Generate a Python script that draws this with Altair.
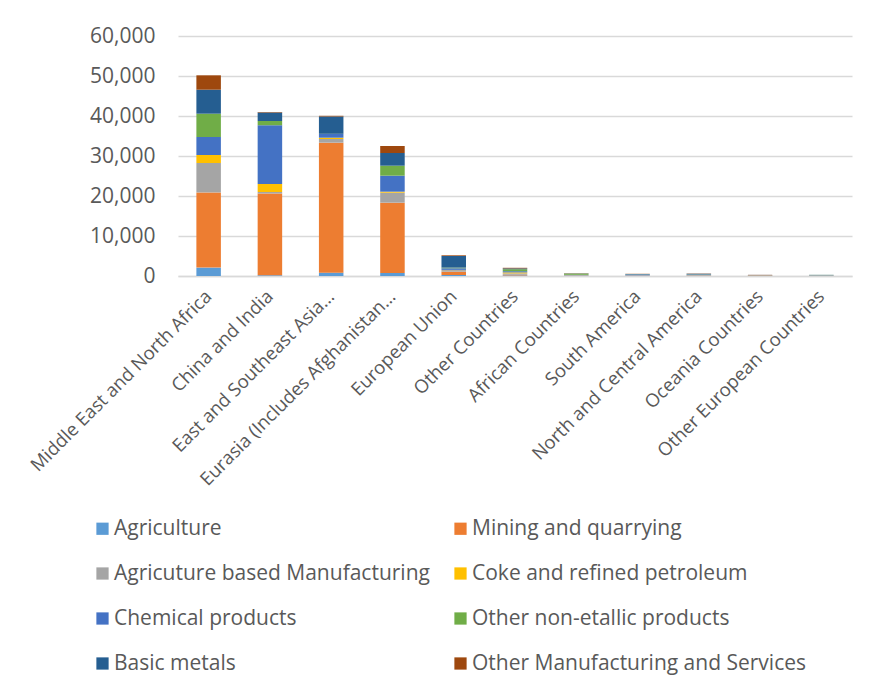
import altair as alt
import pandas as pd

regions = [
    "Middle East and North Africa", "China and India", "East and Southeast Asia…",
    "Eurasia (Includes Afghanistan…", "European Union", "Other Countries",
    "African Countries", "South America", "North and Central America",
    "Oceania Countries", "Other European Countries",
]
sectors = [
    "Agriculture", "Mining and quarrying", "Agricuture based Manufacturing",
    "Coke and refined petroleum", "Chemical products", "Other non-etallic products",
    "Basic metals", "Other Manufacturing and Services",
]
colors = ["#5B9BD5", "#ED7D31", "#A5A5A5", "#FFC000", "#4472C4", "#70AD47", "#255E91", "#9E480E"]

agriculture = [2100, 200, 830, 750, 250, 150, 100, 50, 50, 50, 50]
mining = [18800, 20400, 32500, 17580, 830, 150, 50, 50, 50, 100, 30]
agri_manuf = [7350, 420, 920, 2500, 400, 350, 100, 100, 150, 50, 100]
coke = [2000, 2000, 330, 250, 50, 250, 0, 0, 0, 0, 0]
chemical = [4500, 14670, 920, 4000, 400, 300, 50, 150, 100, 30, 40]
non_metallic = [5830, 1080, 50, 2500, 170, 500, 300, 50, 100, 20, 50]
basic_metals = [6000, 2080, 4330, 3170, 2900, 200, 50, 100, 100, 20, 30]
other_manuf = [3590, 170, 170, 1750, 170, 150, 50, 50, 50, 30, 0]

series = [agriculture, mining, agri_manuf, coke, chemical, non_metallic, basic_metals, other_manuf]

rows = []
for si, (s, vals) in enumerate(zip(sectors, series)):
    for r, v in zip(regions, vals):
        rows.append({"Region": r, "Sector": s, "Value": v, "order": si})
df = pd.DataFrame(rows)

FONT = "Open Sans"
GREY = "#595959"

chart = alt.Chart(df).mark_bar().encode(
    x=alt.X("Region:N", sort=regions, title=None,
            scale=alt.Scale(paddingInner=0.6, paddingOuter=0.3),
            axis=alt.Axis(labelAngle=-45, labelAlign="right", labelBaseline="middle",
                          labelFontSize=18.5, labelColor=GREY, labelFont=FONT,
                          domainColor="#D9D9D9", domainWidth=1.5, ticks=False,
                          labelPadding=17, labelLimit=400, labelOverlap=False)),
    y=alt.Y("Value:Q", title=None,
            scale=alt.Scale(domain=[0, 60000]),
            axis=alt.Axis(values=[0, 10000, 20000, 30000, 40000, 50000, 60000],
                          format=",.0f", labelFontSize=21, labelColor=GREY, labelFont=FONT,
                          domain=False, ticks=False, gridColor="#D9D9D9", gridWidth=1.5,
                          labelPadding=23)),
    color=alt.Color("Sector:N", sort=sectors,
                    scale=alt.Scale(domain=sectors, range=colors),
                    legend=alt.Legend(title=None, orient="none", legendX=-86, legendY=482,
                                      columns=2, direction="horizontal",
                                      symbolType="square", symbolSize=150,
                                      symbolStrokeWidth=0,
                                      labelFontSize=21, labelColor=GREY, labelFont=FONT,
                                      labelLimit=500, rowPadding=23, columnPadding=20,
                                      labelOffset=1)),
    order=alt.Order("order:Q", sort="ascending"),
).properties(
    width=674, height=240,
    autosize=alt.AutoSizeParams(type="none"),
    padding={"left": 178, "top": 36, "right": 21, "bottom": 416},
    background="white",
).configure_view(strokeWidth=0, stroke="transparent")

chart.save("out.html", embed_options={"renderer": "svg", "actions": False})
